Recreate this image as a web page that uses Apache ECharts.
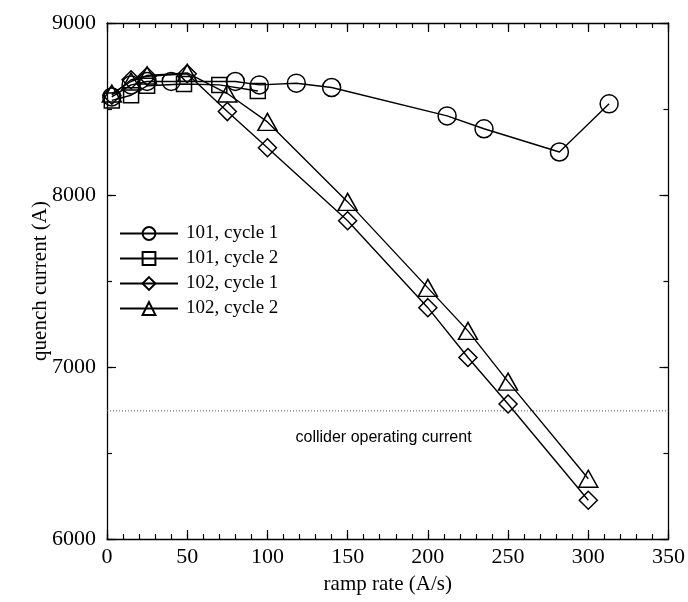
<!DOCTYPE html>
<html>
<head>
<meta charset="utf-8">
<script src="https://cdn.jsdelivr.net/npm/echarts@6/dist/echarts.min.js"></script>
<style>
  html, body { margin: 0; padding: 0; background: #fff; }
  #quench-chart { width: 688px; height: 602px; }
</style>
</head>
<body>
<div id="quench-chart"></div>
<script>
  // ramp rate (A/s) and quench current (A)
  var rate101c1 = [3, 15, 25, 40, 80, 95, 118, 140, 212, 235, 282, 313];
  var amps101c1 = [8570, 8640, 8660, 8660, 8660, 8640, 8650, 8625, 8460, 8385, 8250, 8530];

  var rate101c2 = [3, 15, 25, 48, 70, 94];
  var amps101c2 = [8550, 8580, 8635, 8645, 8640, 8605];

  var rate102c1 = [3, 15, 25, 50, 75, 100, 150, 200, 225, 250, 300];
  var amps102c1 = [8580, 8670, 8690, 8705, 8485, 8275, 7850, 7345, 7055, 6785, 6225];

  var rate102c2 = [3, 15, 25, 50, 75, 100, 150, 200, 225, 250, 300];
  var amps102c2 = [8590, 8660, 8695, 8710, 8590, 8425, 7960, 7460, 7210, 6915, 6350];

  var seriesNames = ['101, cycle 1', '101, cycle 2', '102, cycle 1', '102, cycle 2'];
  var operatingCurrent = 6745;
  var operatingLabel = 'collider operating current';

  var SERIF = "'Liberation Serif', 'DejaVu Serif', serif";
  var SANS = "'Liberation Sans', Arial, sans-serif";

  function pairs(xs, ys) {
    return ys.map(function (y, i) { return [xs[i], y]; });
  }

  function dataSeries(name, xs, ys, symbol, size) {
    return {
      name: name,
      type: 'line',
      data: pairs(xs, ys),
      symbol: symbol,
      symbolSize: size,
      showSymbol: true,
      lineStyle: { color: '#000', width: 1.4 },
      itemStyle: { color: 'rgba(255,255,255,0)', borderColor: '#000', borderWidth: 1.5 },
      emphasis: { disabled: true },
      z: 3
    };
  }

  // one axis = one tick ring; minor ticks get their own axis with a finer interval
  function makeAxis(type, pos, min, max, step, tickLen, showLine, showLabel, margin) {
    return {
      type: 'value',
      position: pos,
      offset: 0,
      min: min,
      max: max,
      interval: step,
      axisLine: { show: showLine, onZero: false, lineStyle: { color: '#000', width: 1.3 } },
      axisTick: { show: true, inside: true, length: tickLen, lineStyle: { color: '#000', width: 1.2 } },
      minorTick: { show: false },
      splitLine: { show: false },
      axisLabel: {
        show: showLabel, color: '#000', fontFamily: SERIF, fontSize: 22, margin: margin,
        formatter: function (v) { return String(v); }
      }
    };
  }

  var myChart = echarts.init(document.getElementById('quench-chart'));

  var xBottom = makeAxis('x', 'bottom', 0, 350, 50, 9, true, true, 7);
  xBottom.name = 'ramp rate (A/s)';
  xBottom.nameLocation = 'middle';
  xBottom.nameGap = 35;
  xBottom.nameTextStyle = { color: '#000', fontFamily: SERIF, fontSize: 21 };

  var yLeft = makeAxis('y', 'left', 6000, 9000, 1000, 9, true, true, 11);
  yLeft.name = 'quench current (A)';
  yLeft.nameLocation = 'middle';
  yLeft.nameGap = 56;
  yLeft.nameMoveOverlap = false;
  yLeft.nameTextStyle = { color: '#000', fontFamily: SERIF, fontSize: 21 };

  var option = {
    backgroundColor: '#fff',
    animation: false,
    grid: { left: 107, right: 19, top: 23, bottom: 63 },
    xAxis: [
      xBottom,
      makeAxis('x', 'top', 0, 350, 50, 9, true, false, 7),
      makeAxis('x', 'bottom', 0, 350, 10, 5, false, false, 7),
      makeAxis('x', 'top', 0, 350, 10, 5, false, false, 7)
    ],
    yAxis: [
      yLeft,
      makeAxis('y', 'right', 6000, 9000, 1000, 9, true, false, 11),
      makeAxis('y', 'left', 6000, 9000, 500, 5, false, false, 11),
      makeAxis('y', 'right', 6000, 9000, 500, 5, false, false, 11)
    ],
    legend: {
      data: seriesNames,
      orient: 'vertical',
      left: 119,
      top: 224,
      itemWidth: 58,
      itemHeight: 16,
      itemGap: 6,
      padding: 0,
      textStyle: { color: '#000', fontFamily: SERIF, fontSize: 19, padding: [0, 0, 0, 3] }
    },
    series: [
      dataSeries(seriesNames[0], rate101c1, amps101c1, 'circle', 18),
      dataSeries(seriesNames[1], rate101c2, amps101c2, 'rect', 15),
      dataSeries(seriesNames[2], rate102c1, amps102c1, 'diamond', 18),
      dataSeries(seriesNames[3], rate102c2, amps102c2, 'triangle', [19, 17]),
      {
        name: 'operating',
        type: 'line',
        data: [[0, operatingCurrent], [350, operatingCurrent]],
        symbol: 'none',
        lineStyle: { color: '#555', width: 1, type: [1, 2] },
        emphasis: { disabled: true },
        silent: true,
        z: 1,
        markPoint: {
          silent: true,
          symbol: 'circle',
          symbolSize: 0,
          data: [{ coord: [115, 6589] }],
          label: {
            show: true,
            position: 'right',
            distance: 4,
            formatter: operatingLabel,
            color: '#000',
            fontFamily: SANS,
            fontSize: 16
          }
        }
      }
    ]
  };

  // 使用刚指定的配置项和数据显示图表。
  myChart.setOption(option, true);
</script>
</body>
</html>
